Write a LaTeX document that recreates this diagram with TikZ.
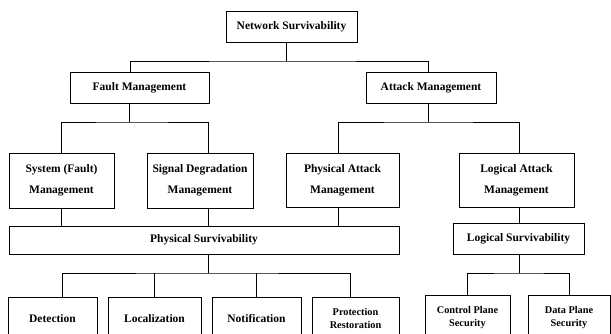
\documentclass[tikz,border=0pt]{standalone}
\usepackage{fontspec}
\setmainfont{Liberation Serif}
\begin{document}
\begin{tikzpicture}[x=1pt,y=-1pt,
  box/.style={draw,line width=0.8pt,inner sep=0pt,align=center,font=\fontsize{11.5}{21}\selectfont\bfseries},
  smallbox/.style={box,font=\fontsize{10.3}{13.5}\selectfont\bfseries},
  wire/.style={line width=0.8pt}]
\useasboundingbox (0,0) rectangle (611,334);
\clip (0,0) rectangle (611,334);
% boxes
\node[box,minimum width=131pt,minimum height=31pt] (ns) at (291.5,26.5) {Network Survivability};
\node[box,minimum width=139pt,minimum height=31pt] (fm) at (139.5,88) {Fault Management};
\node[box,minimum width=130pt,minimum height=31pt] (am) at (431,88) {Attack Management};
\node[box,minimum width=105pt,minimum height=55pt] (sys) at (61.5,180.5) {System (Fault)\\Management};
\node[box,minimum width=106pt,minimum height=55pt] (sig) at (200,180.5) {Signal Degradation\\Management};
\node[box,minimum width=113pt,minimum height=54pt] (pam) at (342.5,180) {Physical Attack\\Management};
\node[box,minimum width=115pt,minimum height=54pt] (lam) at (516.5,180) {Logical Attack\\Management};
\node[box,minimum width=390pt,minimum height=28pt] (ps) at (204,240) {Physical Survivability};
\node[box,minimum width=131pt,minimum height=31pt] (ls) at (518.5,238.5) {Logical Survivability};
\node[box,minimum width=89pt,minimum height=43pt] (det) at (52.5,318.5) {Detection};
\node[box,minimum width=93pt,minimum height=43pt] (loc) at (154.5,318.5) {Localization};
\node[box,minimum width=89pt,minimum height=43pt] (not) at (256.5,318.5) {Notification};
\node[smallbox,minimum width=87pt,minimum height=43pt] (pro) at (355.5,318.5) {Protection\\Restoration};
\node[smallbox,minimum width=85pt,minimum height=45pt] (cps) at (467.5,317.5) {Control Plane\\Security};
\node[smallbox,minimum width=82pt,minimum height=45pt] (dps) at (569,317.5) {Data Plane\\Security};
% junction coordinates
\coordinate (b1) at (286,61);
\coordinate (xf) at (130,0);
\coordinate (xa) at (428,0);
\coordinate (b2) at (129,122);
\coordinate (b3) at (428,122);
\coordinate (xsig) at (208,0);
\coordinate (xpam) at (338,0);
\coordinate (xlam) at (519,0);
\coordinate (b4) at (208,273);
\coordinate (b5) at (519,273);
\coordinate (xdet) at (62,0);
\coordinate (xpro) at (350,0);
% connectors
\draw[wire] (ns.south -| b1) -- (b1);
\draw[wire] (fm.north -| xf) |- (b1) -| (am.north -| xa);
\draw[wire] (fm.south -| b2) -- (b2);
\draw[wire] (sys.north) |- (b2) -| (sig.north -| xsig);
\draw[wire] (am.south -| b3) -- (b3);
\draw[wire] (pam.north -| xpam) |- (b3) -| (lam.north -| xlam);
\draw[wire] (sys.south -| sys) -- (ps.north -| sys);
\draw[wire] (sig.south -| xsig) -- (ps.north -| xsig);
\draw[wire] (pam.south -| xpam) -- (ps.north -| xpam);
\draw[wire] (lam.south -| xlam) -- (ls.north -| xlam);
\draw[wire] (ps.south -| b4) -- (b4);
\draw[wire] (det.north -| xdet) |- (b4) -| (pro.north -| xpro);
\draw[wire] (loc.north) -- (loc.north |- b4);
\draw[wire] (not.north) -- (not.north |- b4);
\draw[wire] (ls.south -| b5) -- (b5);
\draw[wire] (cps.north) |- (b5) -| (dps.north);
\end{tikzpicture}
\end{document}
